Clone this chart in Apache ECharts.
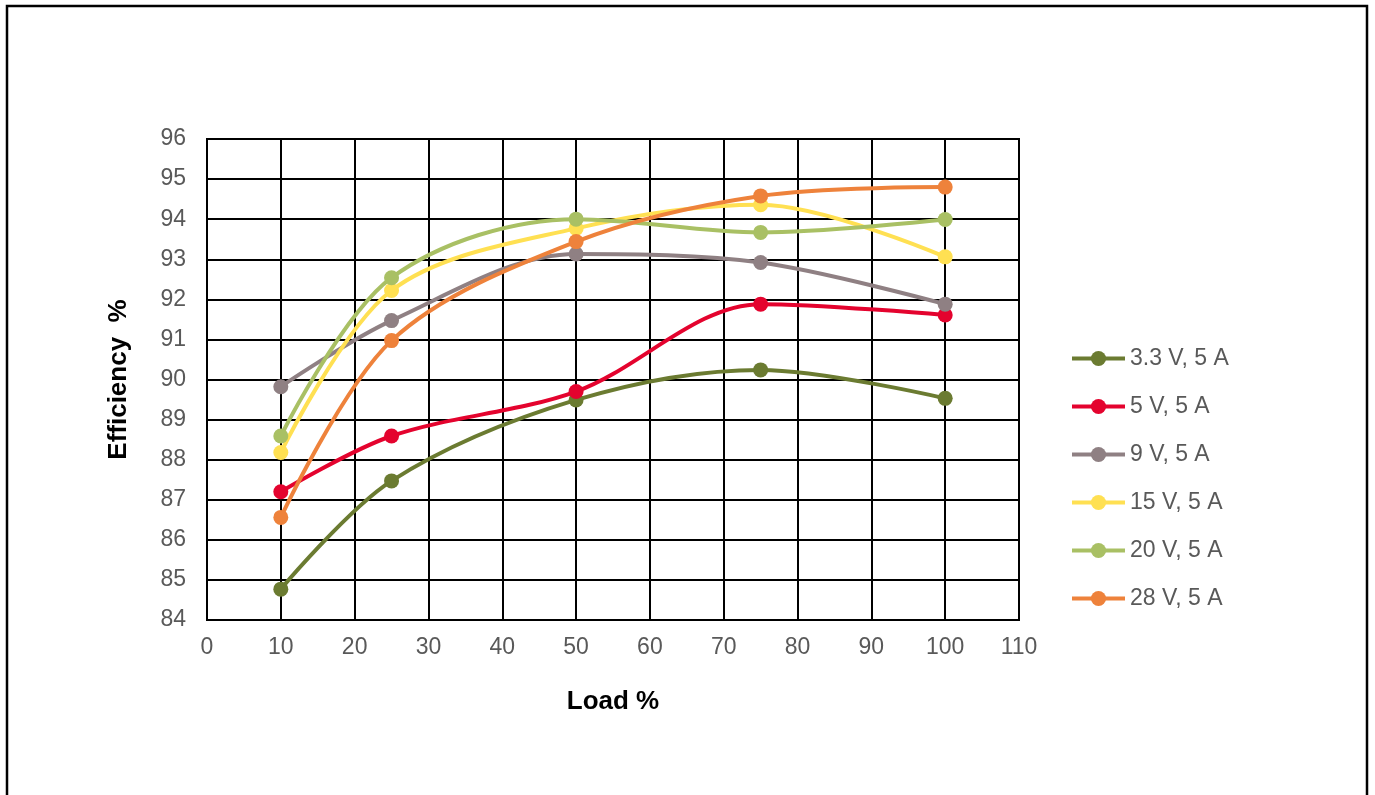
<!DOCTYPE html>
<html>
<head>
<meta charset="utf-8">
<script src="https://cdn.jsdelivr.net/npm/echarts@6/dist/echarts.min.js"></script>
<style>
html,body{margin:0;padding:0;background:#fff;}
#c{width:1375px;height:795px;}
</style>
</head>
<body>
<div id="c"></div>
<script>
const loads = [10, 25, 50, 75, 100];
const seriesNames = ['3.3 V, 5 A', '5 V, 5 A', '9 V, 5 A', '15 V, 5 A', '20 V, 5 A', '28 V, 5 A'];
const eff33 = [84.77, 87.47, 89.49, 90.24, 89.53];
const eff5 = [87.20, 88.59, 89.70, 91.88, 91.61];
const eff9 = [89.82, 91.47, 93.13, 92.92, 91.88];
const eff15 = [88.18, 92.22, 93.77, 94.36, 93.06];
const eff20 = [88.59, 92.54, 94.00, 93.67, 93.99];
const eff28 = [86.56, 90.97, 93.44, 94.58, 94.80];
const colors = ['#6B7B31', '#E4032E', '#8F8083', '#FFE052', '#A9C064', '#EE823B'];

const allData = [eff33, eff5, eff9, eff15, eff20, eff28];
const chart = echarts.init(document.getElementById('c'));
const font = '"Liberation Sans", Arial, sans-serif';
chart.setOption({
  animation: false,
  backgroundColor: '#fff',
  graphic: [{
    type: 'rect', shape: {x: 7, y: 6, width: 1360, height: 900},
    style: {fill: 'none', stroke: '#000', lineWidth: 2.5}, silent: true
  }],
  grid: {left: 207, top: 139, width: 812, height: 481, show: true, borderColor: '#000', borderWidth: 2},
  legend: {
    orient: 'vertical', left: 1065, top: 342,
    itemWidth: 53, itemHeight: 19, itemGap: 25,
    lineStyle: {width: 4},
    textStyle: {fontFamily: font, fontSize: 23, color: '#595959'},
    data: seriesNames
  },
  xAxis: {
    type: 'value', min: 0, max: 110, interval: 10,
    name: 'Load %', nameLocation: 'middle', nameGap: 69,
    nameTextStyle: {fontFamily: font, fontSize: 26, fontWeight: 'bold', color: '#000'},
    axisLine: {show: true, lineStyle: {color: '#000', width: 2}},
    axisTick: {show: false},
    axisLabel: {fontFamily: font, fontSize: 23, color: '#595959', margin: 16},
    splitLine: {show: true, lineStyle: {color: '#000', width: 2}}
  },
  yAxis: {
    type: 'value', min: 84, max: 96, interval: 1,
    name: 'Efficiency  %', nameLocation: 'middle', nameGap: 75, nameRotate: 90,
    nameTextStyle: {fontFamily: font, fontSize: 26, fontWeight: 'bold', color: '#000'},
    axisLine: {show: true, lineStyle: {color: '#000', width: 2}},
    axisTick: {show: false},
    axisLabel: {fontFamily: font, fontSize: 23, color: '#595959', margin: 21},
    splitLine: {show: true, lineStyle: {color: '#000', width: 2}}
  },
  series: seriesNames.map((n, i) => ({
    name: n, type: 'line', smooth: 0.33,
    data: loads.map((x, j) => [x, allData[i][j]]),
    symbol: 'circle', symbolSize: 15,
    lineStyle: {color: colors[i], width: 4},
    itemStyle: {color: colors[i]},
    z: 3
  }))
});
</script>
</body>
</html>
